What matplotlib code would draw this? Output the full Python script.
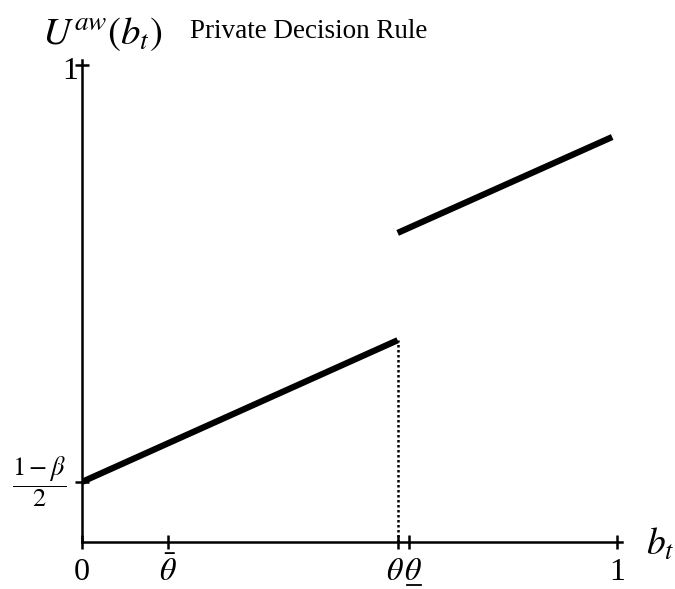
import numpy as np
import matplotlib.pyplot as plt

plt.rcParams['font.family'] = ['Liberation Serif', 'DejaVu Serif']
plt.rcParams['mathtext.fontset'] = 'stix'

# decision rule: two linear pieces with a jump at theta
theta_bar = 0.161
theta = 0.59
theta_under = 0.611
y0 = 0.126          # (1 - beta) / 2
low_x = [0.0, theta]
low_y = [y0, 0.423]
high_x = [theta, 0.991]
high_y = [0.648, 0.849]

xticks = [0, theta_bar, theta, theta_under, 1]

W, H = 675, 589
fig = plt.figure(figsize=(W / 100, H / 100), dpi=100)
x0px, x1px = 82, 617
ybot, ytop = 542, 65
ux = (x1px - x0px) / W
uy = (ybot - ytop) / H
ax = fig.add_axes([x0px / W, (H - ybot) / H, 1.01 * ux, 1.01 * uy])
ax.set_xlim(0, 1.01)
ax.set_ylim(0, 1.01)

for s in ['top', 'right']:
    ax.spines[s].set_visible(False)
for s in ['left', 'bottom']:
    ax.spines[s].set_linewidth(1.8)

ax.plot(low_x, low_y, color='black', lw=4.5, solid_capstyle='butt')
ax.plot(high_x, high_y, color='black', lw=4.5, solid_capstyle='butt')
ax.plot([theta, theta], [0, low_y[1]], color='black', lw=1.8, ls=(0, (1, 1)))

ax.set_xticks(xticks)
ax.set_xticklabels([])
ax.set_yticks([y0, 1])
ax.set_yticklabels([])
ax.tick_params(direction='inout', length=10, width=1.8)

# tick labels placed by hand so theta and its underbar sit close together
lab_y = -0.063
fs = 23
ax.text(0, lab_y, '0', ha='center', va='center', fontsize=fs, clip_on=False)
ax.text(theta_bar, lab_y, r'$\bar{\theta}$', ha='center', va='center', fontsize=fs, clip_on=False)
ax.text(theta - 0.006, lab_y, r'$\theta$', ha='center', va='center', fontsize=fs, clip_on=False)
ax.text(theta_under + 0.008, lab_y, r'$\theta$', ha='center', va='center', fontsize=fs, clip_on=False)
ax.plot([theta_under - 0.004, theta_under + 0.022], [-0.09] * 2,
        color='black', lw=1.3, clip_on=False)
ax.text(1, lab_y, '1', ha='center', va='center', fontsize=fs, clip_on=False)

ax.text(1.055, -0.005, r'$b_t$', ha='left', va='center', fontsize=27, clip_on=False)
ax.text(-0.008, 0.987, '1', ha='right', va='center', fontsize=fs, clip_on=False)
ax.text(-0.08, y0, r'$\dfrac{1-\beta}{2}$', ha='center', va='center', fontsize=19, clip_on=False)

fig.text(42 / W, 1 - 34 / H, r'$U^{aw}\left(b_t\right)$', ha='left', va='center', fontsize=28)
fig.text(190 / W, 1 - 32 / H, 'Private Decision Rule', ha='left', va='center', fontsize=19.5)

fig.savefig('out.png', dpi=100)
